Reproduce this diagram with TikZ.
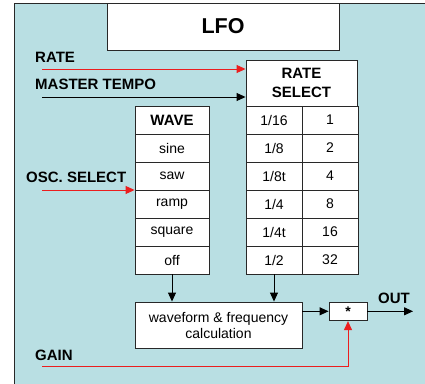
\documentclass[tikz,border=0pt]{standalone}
\usepackage{fontspec}
\setmainfont{Liberation Sans}
\usetikzlibrary{arrows.meta,positioning,calc}
\definecolor{panelblue}{RGB}{185,223,227}
\definecolor{ctrlred}{RGB}{235,30,30}
\definecolor{edgegray}{RGB}{40,40,40}

\tikzset{
  block/.style={draw=edgegray, fill=white, line width=0.9pt, inner sep=0pt, align=center,
    font=\fontsize{14}{16}\selectfont},
  cell/.style={block, minimum height=28pt},
  head/.style={block, font=\fontsize{15}{19}\selectfont\bfseries},
  lbl/.style={anchor=west, inner sep=0pt, font=\fontsize{15}{18}\selectfont\bfseries},
  sig/.style={line width=1pt, -{Triangle[length=9pt,width=8pt]}},
  ctrl/.style={sig, draw=ctrlred, -{Triangle[length=9pt,width=8pt,fill=ctrlred]}}
}

\begin{document}
\begin{tikzpicture}[x=1pt,y=-1pt]
\useasboundingbox (0,0) rectangle (425,383);

% panel
\fill[panelblue] (14,3) rectangle (426,384);
\draw[edgegray, line width=1pt] (14,384) -- (14,3) -- (426,3);

% title
\node[block, minimum width=232pt, minimum height=47pt, font=\fontsize{21.5}{26}\selectfont\bfseries]
  (lfo) at (223,26.5) {LFO};

% rate select table
\node[head, minimum width=111pt, minimum height=46pt] (rsel) at (301.5,83) {RATE\\SELECT};
\foreach \l/\r [count=\i] in {{1/16}/1, {1/8}/2, {1/8t}/4, {1/4}/8, {1/4t}/16, {1/2}/32} {
  \node[cell, minimum width=56pt] (rl\i) at (274,92+28*\i) {\l};
  \node[cell, minimum width=56pt] (rr\i) at (330,92+28*\i) {\r};
}

% wave table
\node[head, minimum width=74pt, minimum height=28pt] (wave0) at (172,120) {WAVE};
\foreach \w [count=\i] in {sine, saw, ramp, square, off}
  \node[cell, minimum width=74pt] (wave\i) at (172,120+28*\i) {\w};

% processing
\node[block, minimum width=167pt, minimum height=46pt] (calc) at (218.5,325)
  {waveform \& frequency\\calculation};
\node[block, minimum width=38pt, minimum height=18.7pt, font=\fontsize{14}{16}\selectfont\bfseries]
  (mult) at (348,311.3) {\raisebox{-4pt}{*}};

% input labels
\node[lbl] (ratelbl) at (35,57) {RATE};
\node[lbl] (tempolbl) at (35,84.5) {MASTER TEMPO};
\node[lbl] (osclbl) at (26,177.5) {OSC. SELECT};
\node[lbl] (gainlbl) at (35,355) {GAIN};
\node[lbl] (outlbl) at (378,298.5) {OUT};

\coordinate (rate in) at (42,69);
\coordinate (tempo in) at (42,97);
\coordinate (osc in) at (42,190);
\coordinate (gain in) at (42,366.7);
\coordinate (out end) at (413,311.3);

% connectors
\draw[ctrl] (rate in) -- (rate in -| rsel.west);
\draw[sig] (tempo in) -- (tempo in -| rsel.west);
\draw[ctrl] (osc in) -- (osc in -| wave3.west);
\draw[sig] (wave5.south) -- (wave5.south |- calc.north);
\draw[sig] (rl6.south) -- (rl6.south |- calc.north);
\draw[sig] (mult.west -| calc.east) -- (mult.west);
\draw[sig] (mult.east) -- (out end);
\draw[ctrl] (gain in) -- (gain in -| mult.south) -- (mult.south);
\end{tikzpicture}
\end{document}
